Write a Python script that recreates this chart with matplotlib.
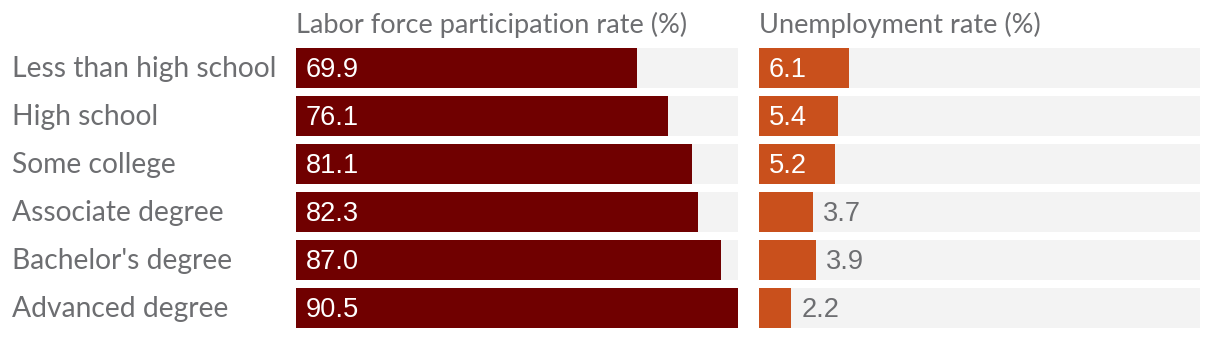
import matplotlib.pyplot as plt
from matplotlib import transforms

# Data
categories = ["Less than high school", "High school", "Some college",
              "Associate degree", "Bachelor's degree", "Advanced degree"]
participation = [69.9, 76.1, 81.1, 82.3, 87.0, 90.5]
unemployment = [6.1, 5.4, 5.2, 3.7, 3.9, 2.2]
panel_titles = ["Labor force participation rate (%)", "Unemployment rate (%)"]
panel_max = [90.5, 30.0]

W, H = 1220, 338
fig = plt.figure(figsize=(W / 100, H / 100), dpi=100)

text_grey = "#6d6e71"
bg_grey = "#f3f3f3"
label_font = "Lato"
value_font = "Liberation Sans"

bar_h = 40 / 48
rows = list(range(len(categories)))


def make_axes(x0, x1):
    ax = fig.add_axes([x0 / W, 1 - 328 / H, (x1 - x0) / W, 280 / H])
    ax.set_ylim(rows[-1] + bar_h / 2, -bar_h / 2)
    ax.axis("off")
    return ax


ax1 = make_axes(296, 738)
ax2 = make_axes(759, 1200)

panels = [(ax1, participation, "#700000", 0), (ax2, unemployment, "#c9501c", 1)]
for ax, vals, color, k in panels:
    xmax = panel_max[k]
    ax.set_xlim(0, xmax)
    ax.barh(rows, [xmax] * len(rows), height=bar_h, color=bg_grey, left=0)
    ax.barh(rows, vals, height=bar_h, color=color)
    # text baseline sits about 9 px below the bar centre
    off = transforms.offset_copy(ax.transData, fig=fig, x=10, y=-9, units="dots")
    for r, v in zip(rows, vals):
        if k == 0 or v >= 5:
            ax.text(0, r, f"{v:.1f}", transform=off, color="white", va="baseline",
                    ha="left", fontsize=19.6, family=value_font)
        else:
            ax.text(v, r, f"{v:.1f}", transform=off, color=text_grey, va="baseline",
                    ha="left", fontsize=19.6, family=value_font)
    fig.text([296, 759][k] / W, 1 - 33 / H, panel_titles[k], color=text_grey,
             fontsize=19.5, family=label_font, va="baseline", ha="left")

# category labels on the left
for r, cat in zip(rows, categories):
    fig.text(12 / W, 1 - (77 + 48 * r) / H, cat, color=text_grey, fontsize=20.3,
             family=label_font, va="baseline", ha="left")

fig.savefig("out.png", dpi=100, facecolor="white")
